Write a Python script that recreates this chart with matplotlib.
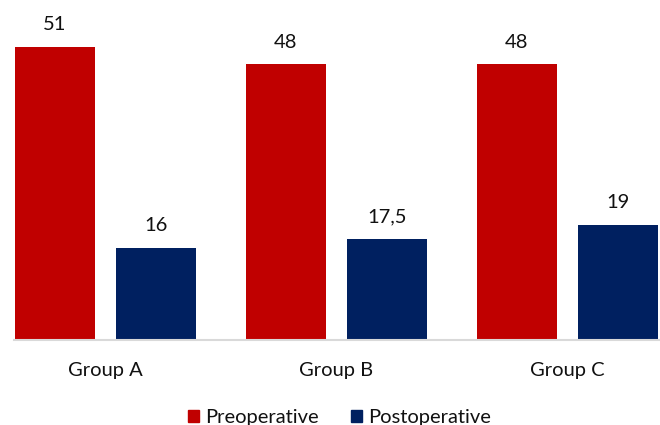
import matplotlib.pyplot as plt
from matplotlib.patches import Patch

groups = ["Group A", "Group B", "Group C"]
series_names = ["Preoperative", "Postoperative"]
pre_values = [51, 48, 48]
post_values = [16, 17.5, 20]
pre_labels = ["51", "48", "48"]
post_labels = ["16", "17,5", "19"]

RED = "#C00000"
NAVY = "#002060"

plt.rcParams["font.family"] = ["Lato", "DejaVu Sans"]

fig = plt.figure(figsize=(6.6, 4.25), dpi=100)
ax = fig.add_axes([14 / 660, 85 / 425, 646 / 660, 316 / 425])

x = list(range(len(groups)))
width = 0.346
offset = 0.219

bars_pre = ax.bar([i - offset for i in x], pre_values, width, color=RED)
bars_post = ax.bar([i + offset for i in x], post_values, width, color=NAVY)

for bars, labels in ((bars_pre, pre_labels), (bars_post, post_labels)):
    for bar, label in zip(bars, labels):
        ax.annotate(label, (bar.get_x() + bar.get_width() / 2, bar.get_height()),
                    xytext=(0, 12), textcoords="offset points",
                    ha="center", va="baseline", fontsize=14.5, color="#111111")

ax.set_xlim(-0.396, 2.400)
ax.set_ylim(0, 55)
for side in ("left", "right", "top"):
    ax.spines[side].set_visible(False)
ax.spines["bottom"].set_color("#D9D9D9")
ax.spines["bottom"].set_linewidth(1.5)
ax.set_yticks([])
ax.set_xticks(x)
ax.set_xticklabels(groups, fontsize=14.5, color="#111111")
ax.tick_params(axis="x", length=0, pad=16)

handles = [Patch(color=RED), Patch(color=NAVY)]
fig.legend(handles, series_names, ncol=2, loc="lower center",
           bbox_to_anchor=(0.514, -0.045), frameon=False, fontsize=14.5,
           handlelength=0.55, handleheight=0.55, handletextpad=0.3,
           columnspacing=1.6, labelcolor="#111111")

fig.savefig("out.png", dpi=100)
